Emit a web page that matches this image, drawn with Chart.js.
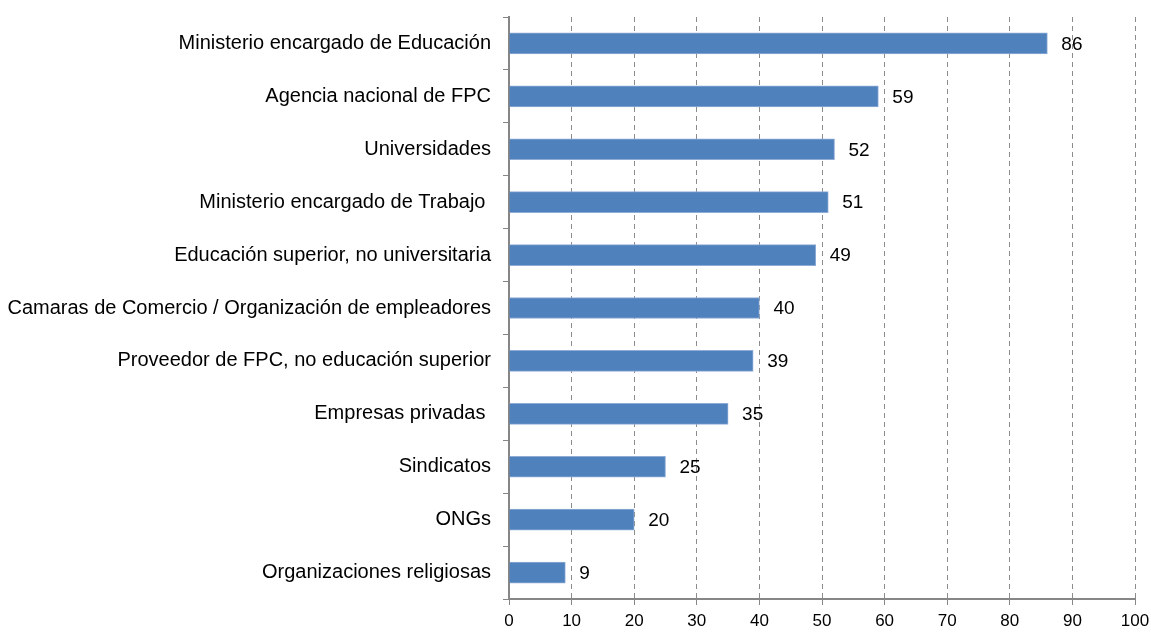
<!DOCTYPE html>
<html>
<head>
<meta charset="utf-8">
<script src="https://cdn.jsdelivr.net/npm/chart.js@4.4.0/dist/chart.umd.min.js"></script>
<style>
  html, body { margin: 0; padding: 0; background: #fff; }
  #wrap { width: 1151px; height: 633px; position: relative; }
</style>
</head>
<body>
<div id="wrap"><canvas id="graphique"></canvas></div>
<script>
// Données du graphique
const categories = [
  "Ministerio encargado de Educación",
  "Agencia nacional de FPC",
  "Universidades",
  "Ministerio encargado de Trabajo ",
  "Educación superior, no universitaria",
  "Camaras de Comercio / Organización de empleadores",
  "Proveedor de FPC, no educación superior",
  "Empresas privadas ",
  "Sindicatos",
  "ONGs",
  "Organizaciones religiosas"
];
const valeurs = [86, 59, 52, 51, 49, 40, 39, 35, 25, 20, 9];
const ticksX = [0, 10, 20, 30, 40, 50, 60, 70, 80, 90, 100];

const police = "'Liberation Sans', Arial, sans-serif";

// Étiquettes de valeur à droite des barres
const etiquettesValeurs = {
  id: "etiquettesValeurs",
  afterDatasetsDraw(chart) {
    const ctx = chart.ctx;
    const meta = chart.getDatasetMeta(0);
    ctx.save();
    ctx.font = "19px " + police;
    ctx.fillStyle = "#000";
    ctx.textAlign = "left";
    ctx.textBaseline = "middle";
    meta.data.forEach((bar, i) => {
      ctx.fillText(String(valeurs[i]), bar.x + 14, bar.y + 1);
    });
    ctx.restore();
  }
};

new Chart(document.getElementById("graphique"), {
  type: "bar",
  data: {
    labels: categories,
    datasets: [{
      data: valeurs,
      backgroundColor: "#4F81BD",
      borderColor: "#8EACD6",
      borderWidth: 1,
      barThickness: 21
    }]
  },
  options: {
    indexAxis: "y",
    responsive: true,
    maintainAspectRatio: false,
    animation: false,
    layout: { padding: { top: 17, right: 16, left: 0, bottom: 0 } },
    plugins: {
      legend: { display: false },
      tooltip: { enabled: false }
    },
    scales: {
      x: {
        min: 0,
        max: 100,
        afterBuildTicks: (scale) => { scale.ticks = ticksX.map(v => ({ value: v })); },
        afterFit: (scale) => {
          scale.height = 34;
          scale.paddingLeft = 0;
          scale.paddingRight = 0;
        },
        ticks: {
          color: "#000",
          font: { family: police, size: 17 },
          padding: 6
        },
        grid: {
          color: "#8C8C8C",
          lineWidth: 1,
          tickLength: 6,
          drawTicks: true,
          tickBorderDash: [],
          tickColor: "#868686"
        },
        border: { display: true, color: "#868686", width: 2, dash: [5, 4] }
      },
      y: {
        afterFit: (scale) => {
          scale.width = 509;
          scale.paddingTop = 0;
          scale.paddingBottom = 0;
        },
        ticks: {
          color: "#000",
          font: { family: police, size: 20 },
          padding: 12
        },
        grid: {
          drawOnChartArea: false,
          tickLength: 6,
          color: "#868686"
        },
        border: { display: true, color: "#868686", width: 2 }
      }
    }
  },
  plugins: [etiquettesValeurs]
});
</script>
</body>
</html>
